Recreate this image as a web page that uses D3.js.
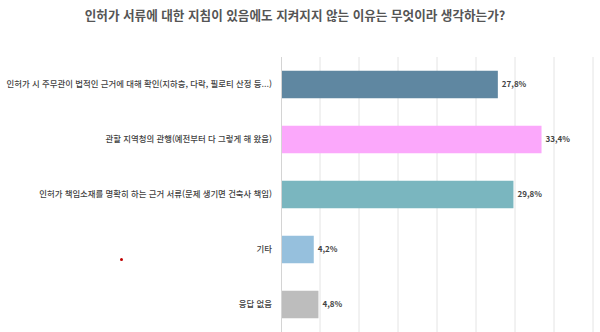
<!DOCTYPE html>
<html lang="ko">
<head>
<meta charset="utf-8">
<script src="https://cdn.jsdelivr.net/npm/d3@7/dist/d3.min.js"></script>
<style>
  html, body { margin: 0; padding: 0; background: #fff; }
  svg { display: block; font-family: "Noto Sans CJK KR", "Noto Sans", sans-serif; }
</style>
</head>
<body>
<svg id="chart" width="600" height="332"></svg>
<script>
// Survey responses: why the building-permit document guidelines are not followed
const title = "인허가 서류에 대한 지침이 있음에도 지켜지지 않는 이유는 무엇이라 생각하는가?";
const categories = [
  "인허가 시 주무관이 법적인 근거에 대해 확인(지하층, 다락, 필로티 산정 등...)",
  "관할 지역청의 관행(예전부터 다 그렇게 해 왔음)",
  "인허가 책임소재를 명확히 하는 근거 서류(문제 생기면 건축사 책임)",
  "기타",
  "응답 없음"
];
const values = [27.8, 33.4, 29.8, 4.2, 4.8];
const colors = ["#5f87a1", "#fba8fb", "#7ab6bf", "#96c0dd", "#bdbdbd"];
const gridTicks = [0, 5, 10, 15, 20, 25, 30, 35, 40];

const svg = d3.select("#chart");
const W = 600, H = 332;
const margin = { top: 57, right: 7, bottom: 0, left: 281 };

const x = d3.scaleLinear().domain([0, 40]).range([margin.left, W - margin.right]);
const y = d3.scaleBand().domain(categories)
  .range([margin.top, margin.top + 55 * categories.length])
  .paddingInner(0.5).paddingOuter(0.25);

// Title
svg.append("text")
  .attr("x", 295).attr("y", 20)
  .attr("text-anchor", "middle")
  .attr("font-size", 12.6).attr("font-weight", 700)
  .attr("fill", "#555")
  .text(title);

// Vertical gridlines
svg.append("g")
  .selectAll("line")
  .data(gridTicks.slice(1))
  .join("line")
  .attr("x1", d => x(d)).attr("x2", d => x(d))
  .attr("y1", margin.top).attr("y2", H)
  .attr("stroke", "#e4e4e4").attr("stroke-width", 1);

// Category axis
const yAxis = svg.append("g")
  .attr("transform", `translate(${margin.left},0)`)
  .call(d3.axisLeft(y).tickSize(0).tickPadding(9));
yAxis.select(".domain").attr("stroke", "#d4d4d4").attr("d", `M0.5,${margin.top}V${H}`);
yAxis.selectAll("text")
  .attr("font-size", 8.4).attr("fill", "#3f3f3f").attr("font-weight", 500)
  .attr("font-family", "\"Noto Sans CJK KR\", sans-serif");

// Bars
svg.append("g")
  .selectAll("rect")
  .data(values)
  .join("rect")
  .attr("x", x(0) + 1)
  .attr("y", (d, i) => y(categories[i]))
  .attr("width", d => x(d) - x(0) - 1)
  .attr("height", y.bandwidth())
  .attr("fill", (d, i) => colors[i]);

// Value labels (decimal comma)
svg.append("g")
  .selectAll("text")
  .data(values)
  .join("text")
  .attr("x", d => x(d) + 4)
  .attr("y", (d, i) => y(categories[i]) + y.bandwidth() / 2)
  .attr("dy", "0.35em")
  .attr("font-size", 8).attr("font-weight", 700)
  .attr("fill", "#444")
  .text(d => d.toFixed(1).replace(".", ",") + "%");

// Small red marker on the left
svg.append("circle")
  .attr("cx", 121.5).attr("cy", 259.5).attr("r", 1.5)
  .attr("fill", "#c00000");
</script>
</body>
</html>
